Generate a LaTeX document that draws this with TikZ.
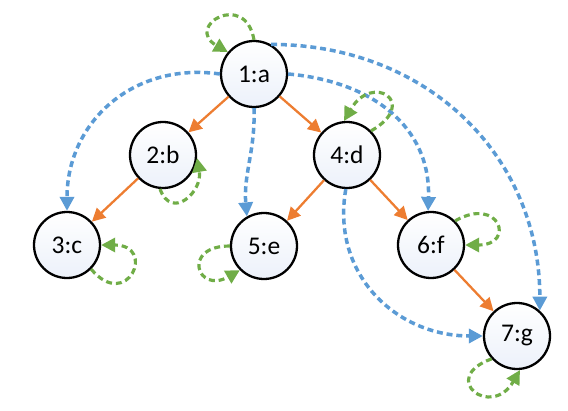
\documentclass[tikz,border=0pt]{standalone}
\usepackage{fontspec}
\setmainfont{Carlito}
\usetikzlibrary{arrows.meta}
\definecolor{treeorange}{RGB}{237,125,49}
\definecolor{backblue}{RGB}{91,155,213}
\definecolor{loopgreen}{RGB}{112,173,71}
\definecolor{vtxshade}{RGB}{236,241,250}
\tikzset{
  vtx/.style={circle, draw=black, line width=1.3pt, minimum size=1.32cm, inner sep=0pt,
    top color=white, bottom color=vtxshade, font=\fontsize{14.5}{16}\selectfont},
  tree/.style={treeorange, line width=1.3pt, -{Triangle[length=7.5pt, width=7.5pt]}},
  back/.style={backblue, line width=2pt, dash pattern=on 3.4pt off 2.2pt,
    -{Triangle[length=8pt, width=8pt]}},
  selfloop/.style={loopgreen, line width=1.8pt, dash pattern=on 3.4pt off 2.2pt,
    -{Triangle[length=8pt, width=8pt]}}
}
\begin{document}
\begin{tikzpicture}
  \useasboundingbox (0,0) rectangle (11.36,-8.22);

  % vertices, numbered in discovery order
  \node[vtx] (a) at (5.08,-1.48) {1:a};
  \node[vtx] (b) at (3.26,-3.10) {2:b};
  \node[vtx] (c) at (1.34,-4.90) {3:c};
  \node[vtx] (d) at (6.94,-3.10) {4:d};
  \node[vtx] (e) at (5.28,-4.92) {5:e};
  \node[vtx] (f) at (8.62,-4.90) {6:f};
  \node[vtx] (g) at (10.34,-6.72) {7:g};

  % tree edges
  \draw[tree] (a) -- (b);
  \draw[tree] (a) -- (d);
  \draw[tree] (b) -- (c);
  \draw[tree] (d) -- (e);
  \draw[tree] (d) -- (f);
  \draw[tree] (f) -- (g);

  % the other edges
  \draw[back] (a.west) to[out=172, in=90, looseness=1.1] (c.north);
  \draw[back] (a.south) to[out=-88, in=95] (e.120);
  \draw[back] (a.east) to[out=-5, in=88, looseness=1.1] (f.95);
  \draw[back] (a.60) to[out=0, in=90, looseness=1.05] (g.48);
  \draw[back] (d.-92) to[out=-100, in=180, looseness=1.1] (g.west);

  % self loops
  \draw[selfloop] (a.90) to[out=100, in=150, looseness=4.5] (a.140);
  \draw[selfloop] (b.265) to[out=-70, in=-80, looseness=1.8] (b.-5);
  \draw[selfloop] (c.-45) to[out=-50, in=0, looseness=5.5] (c.0);
  \draw[selfloop] (d.45) to[out=30, in=60, looseness=5] (d.95);
  \draw[selfloop] (e.180) to[out=180, in=210, looseness=4.8] (e.225);
  \draw[selfloop] (f.45) to[out=30, in=0, looseness=5] (f.0);
  \draw[selfloop] (g.222) to[out=200, in=240, looseness=4.8] (g.275);
\end{tikzpicture}
\end{document}
